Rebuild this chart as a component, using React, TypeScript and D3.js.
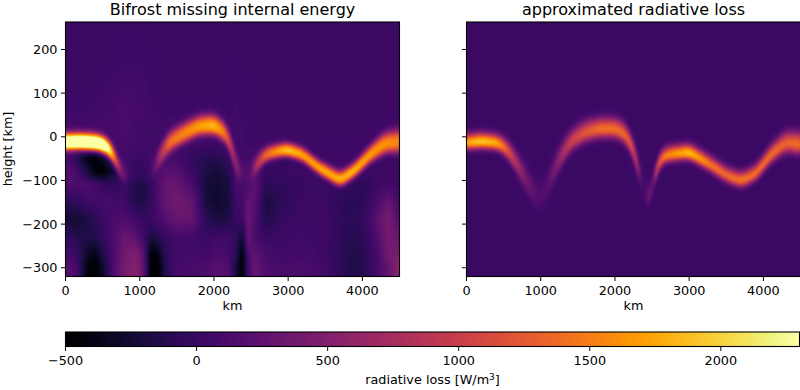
import React, { useMemo } from "react";
import * as d3 from "d3";

const xTicks = [0, 1000, 2000, 3000, 4000];
const yTicks = [-300, -200, -100, 0, 100, 200];
const colorTicks = [-500, 0, 500, 1000, 1500, 2000];
const xDomain = [0, 4500];
const yDomain = [-320, 263];
const colorDomain = [-500, 2300];

const leftTitle = "Bifrost missing internal energy";
const rightTitle = "approximated radiative loss";

// Ridge of the bright layer
const leftRidgeX = [0, 200, 400, 500, 600, 700, 760, 850, 1150, 1200, 1270, 1400, 1600, 1800, 2000, 2100, 2200, 2300, 2380, 2500, 2530, 2600, 2700, 2900, 3000, 3200, 3400, 3700, 3900, 4100, 4300, 4500];
const leftRidgeHeight = [-13, -12, -14, -18, -30, -62, -85, -100, -90, -70, -45, -13, 7, 24, 26, 15, -3, -70, -90, -85, -77, -58, -41, -32, -31, -42, -70, -100, -77, -42, -16, -12];
const leftRidgePeak = [2950, 3050, 3050, 2950, 2300, 1050, 380, 60, 60, 200, 650, 1350, 1500, 1650, 1800, 1550, 1150, 450, 100, 100, 400, 900, 1350, 1800, 1950, 1750, 1750, 1800, 1850, 1700, 1600, 1500];
const leftRidgeWidth = [17, 17, 17, 17, 17, 18, 20, 20, 20, 20, 20, 20, 20, 20, 20, 20, 19, 22, 22, 22, 20, 17, 15, 14, 14, 14, 14, 15, 15, 17, 21, 23];

// Ridge of the bright layer
const rightRidgeX = [0, 200, 400, 500, 600, 700, 800, 900, 1000, 1100, 1200, 1300, 1400, 1600, 1800, 2000, 2100, 2200, 2300, 2330, 2380, 2420, 2460, 2500, 2530, 2550, 2600, 2700, 3000, 3300, 3500, 3700, 3900, 4100, 4300, 4500];
const rightRidgeHeight = [-14, -11, -14, -22, -42, -69, -100, -127, -148, -112, -69, -39, -12, 10, 18, 18, 10, -9, -62, -82, -120, -140, -155, -120, -95, -80, -54, -42, -36, -66, -89, -102, -85, -42, -14, -18];
const rightRidgePeak = [1750, 1950, 1800, 1450, 1050, 700, 400, 230, 130, 200, 450, 750, 1000, 1200, 1400, 1400, 1350, 1300, 800, 350, 60, 120, 420, 220, 500, 1000, 1300, 1550, 1900, 1450, 1350, 1450, 1400, 1400, 1300, 1400];
const rightRidgeWidth = [15, 15, 15, 16, 18, 21, 24, 27, 30, 27, 24, 22, 20, 20, 19, 19, 19, 18, 20, 20, 25, 22, 20, 18, 16, 15, 15, 15, 15, 15, 15, 15, 15, 17, 20, 21];

// Everything apart from the ridge, left panel
const leftBgX = [0, 150, 300, 400, 500, 650, 800, 950, 1050, 1150, 1250, 1350, 1500, 1700, 1900, 2050, 2200, 2300, 2380, 2460, 2550, 2700, 2900, 3200, 3500, 3800, 4000, 4200, 4350, 4500];
const leftBgY = [263, 150, 60, 20, -20, -50, -80, -110, -150, -190, -230, -270, -300, -320];
const leftBgRow263 = [20, 20, 15, 15, 15, 20, 30, 30, 30, 25, 20, 20, 20, 20, 20, 20, 20, 30, 25, 20, 10, 10, 10, 10, 10, 10, 10, 10, 15, 15];
const leftBgRow150 = [25, 25, 25, 25, 30, 40, 50, 50, 45, 35, 30, 25, 25, 25, 25, 25, 30, 40, 35, 25, 20, 15, 15, 15, 15, 15, 15, 15, 20, 20];
const leftBgRow60 = [40, 40, 50, 50, 60, 90, 110, 90, 70, 50, 40, 40, 40, 40, 40, 40, 40, 50, 40, 30, 25, 20, 20, 20, 20, 20, 20, 25, 30, 40];
const leftBgRow20 = [80, 80, 80, 80, 80, 90, 100, 80, 60, 50, 50, 60, 60, 60, 60, 60, 60, 60, 50, 40, 30, 30, 30, 30, 25, 25, 25, 30, 40, 60];
const leftBgRowM20 = [50, 50, 40, 30, 30, 70, 90, 70, 50, 50, 60, 60, 60, 40, 20, 20, 30, 60, 50, 40, 40, 30, 20, 30, 40, 40, 30, 30, 30, 30];
const leftBgRowM50 = [120, -60, -420, -450, -300, -100, 60, 30, 30, 60, 100, 100, 80, -30, -110, -120, -20, 100, 60, 60, 60, -20, -60, -10, 20, 40, 20, 10, 0, 20];
const leftBgRowM80 = [200, 100, -200, -450, -500, -250, 60, -80, -80, 20, 120, 200, 200, 20, -180, -230, -130, 150, 80, 80, 100, 0, 0, 20, 40, 40, 0, 20, 30, 40];
const leftBgRowM110 = [150, 130, 130, 80, 0, -30, -20, -180, -190, -30, 150, 320, 300, 120, -230, -260, -200, 150, 60, 100, 250, -80, -50, 0, 0, 0, -80, 20, 40, 30];
const leftBgRowM150 = [-100, -60, 40, 70, 80, 70, 40, -150, -170, -40, 120, 300, 380, 300, -220, -270, -210, 60, 50, 300, 200, -200, -80, 20, 20, -100, -80, 120, 300, 70];
const leftBgRowM190 = [-230, -260, -180, -80, 0, 120, 130, 40, 0, 20, 80, 170, 320, 280, -100, -200, -170, 20, 10, 330, 150, -150, -20, 30, 30, -70, -50, 230, 430, 150];
const leftBgRowM230 = [-20, -130, -150, -130, -30, 130, 320, 220, 50, -200, -100, 0, 70, 60, 0, 40, 40, -40, -300, 330, 100, 0, 30, 50, 30, -100, -100, 140, 430, 300];
const leftBgRowM270 = [100, 0, -300, -400, -170, 120, 400, 480, 220, -480, -400, -60, 60, 60, 60, 130, 90, -100, -500, 150, 250, 100, 50, 70, 30, -130, -130, 100, 380, 450];
const leftBgRowM300 = [180, 100, -450, -500, -300, 140, 420, 520, 280, -500, -500, -100, 80, 100, 130, 220, 160, -220, -500, 50, 300, 150, 100, 120, 60, -130, -140, 80, 280, 600];
const leftBgRowM320 = [200, 100, -450, -500, -320, 150, 420, 520, 300, -500, -500, -100, 80, 100, 130, 220, 160, -220, -500, 50, 300, 150, 100, 120, 60, -130, -140, 80, 280, 600];
const leftBgRows = [leftBgRow263, leftBgRow150, leftBgRow60, leftBgRow20, leftBgRowM20, leftBgRowM50, leftBgRowM80, leftBgRowM110, leftBgRowM150, leftBgRowM190, leftBgRowM230, leftBgRowM270, leftBgRowM300, leftBgRowM320];

// Everything apart from the ridge, right panel (nearly flat)
const rightBgX = [0, 4500];
const rightBgY = [263, -320];
const rightBgRowTop = [15, 15];
const rightBgRowBottom = [10, 10];
const rightBgRows = [rightBgRowTop, rightBgRowBottom];

const plotTop = 22;
const plotBottom = 276.5;
const leftX0 = 65.5;
const rightX0 = 466.5;
const plotWidth = 334;
const barTop = 332;
const barBottom = 346.5;
const barLeft = 65.5;
const barRight = 799.5;
const font = "'DejaVu Sans', sans-serif";
const tickFont = 12.8;

const yScale = d3.scaleLinear().domain(yDomain).range([plotBottom, plotTop]);
const colorPos = d3.scaleLinear().domain(colorDomain).range([barLeft, barRight]);
const colorT = d3.scaleLinear().domain(colorDomain).range([0, 1]).clamp(true);
const levels = 256;

type Field = {
  ridgeX: number[]; ridgeH: number[]; ridgeP: number[]; ridgeW: number[];
  bgX: number[]; bgY: number[]; bgRows: number[][]; up: number; power: number;
};

function rasterize(f: Field, x0: number) {
  const xScale = d3.scaleLinear().domain(xDomain).range([x0, x0 + plotWidth]);
  const h0 = d3.scaleLinear().domain(f.ridgeX).range(f.ridgeH).clamp(true);
  const p = d3.scaleLinear().domain(f.ridgeX).range(f.ridgeP).clamp(true);
  const w = d3.scaleLinear().domain(f.ridgeX).range(f.ridgeW).clamp(true);
  // the ridge curve is read at knots; round off the corners between them
  const h = (x: number) => d3.mean(d3.range(-4, 5), k => h0(x + k * 15)) as number;
  const ix = d3.scaleLinear().domain(f.bgX).range(d3.range(f.bgX.length)).clamp(true);
  const iy = d3.scaleLinear().domain([...f.bgY].reverse()).range(d3.range(f.bgY.length).reverse()).clamp(true);
  const nx = plotWidth;
  const ny = Math.round(plotBottom - plotTop);
  const top = Math.round(plotTop);
  const left = Math.floor(x0);
  const vals = new Float64Array(nx * ny);
  const xsKm = d3.range(nx).map(i => xScale.invert(left + i + 0.5));
  const hs = xsKm.map(h), ps = xsKm.map(p), ws = xsKm.map(w);
  for (let j = 0; j < ny; j++) {
    const km = yScale.invert(top + j + 0.5);
    const fy = iy(km);
    const j0 = Math.min(Math.floor(fy), f.bgY.length - 2);
    const ty = fy - j0;
    for (let i = 0; i < nx; i++) {
      const fx = ix(xsKm[i]);
      const i0 = Math.min(Math.floor(fx), f.bgX.length - 2);
      const tx = fx - i0;
      const a = f.bgRows[j0][i0] * (1 - tx) + f.bgRows[j0][i0 + 1] * tx;
      const b = f.bgRows[j0 + 1][i0] * (1 - tx) + f.bgRows[j0 + 1][i0 + 1] * tx;
      const bg = a * (1 - ty) + b * ty;
      const d = km - hs[i];
      const width = d > 0 ? ws[i] * f.up : ws[i];
      vals[j * nx + i] = bg + ps[i] * Math.exp(-Math.pow(Math.abs(d / width), f.power));
    }
  }
  // soft resampling, as an upscaled image has
  for (let pass = 0; pass < 4; pass++) {
    const copy = vals.slice();
    for (let j = 0; j < ny; j++) {
      for (let i = 0; i < nx; i++) {
        let s = 0, c = 0;
        for (let dj = -1; dj <= 1; dj++) for (let di = -1; di <= 1; di++) {
          const a = i + di, b = j + dj;
          if (a < 0 || b < 0 || a >= nx || b >= ny) continue;
          const k = (2 - Math.abs(di)) * (2 - Math.abs(dj));
          s += copy[b * nx + a] * k; c += k;
        }
        vals[j * nx + i] = s / c;
      }
    }
  }
  const paths: string[] = new Array(levels).fill("");
  for (let j = 0; j < ny; j++) {
    let i = 0;
    while (i < nx) {
      const lv = Math.min(levels - 1, Math.floor(colorT(vals[j * nx + i]) * levels));
      let run = 1;
      while (i + run < nx && Math.min(levels - 1, Math.floor(colorT(vals[j * nx + i + run]) * levels)) === lv) run++;
      paths[lv] += `M${left + i} ${top + j}h${run}v1h${-run}z`;
      i += run;
    }
  }
  return paths;
}

function Panel({ x0, title, field, yLabels }: { x0: number; title: string; field: Field; yLabels: boolean }) {
  const xScale = d3.scaleLinear().domain(xDomain).range([x0, x0 + plotWidth]);
  const paths = useMemo(() => rasterize(field, x0), []);
  return (
    <g>
      <text x={x0 + plotWidth / 2} y={15} textAnchor="middle" fontSize={16} fontFamily={font}>{title}</text>
      <g shapeRendering="crispEdges">
        {paths.map((d, i) => d ? <path key={i} d={d} fill={d3.interpolateInferno((i + 0.5) / levels)} /> : null)}
      </g>
      <rect x={x0} y={plotTop} width={plotWidth} height={plotBottom - plotTop} fill="none" stroke="#000" strokeWidth={1.1} />
      {xTicks.map(t => (
        <g key={t}>
          <line x1={xScale(t)} x2={xScale(t)} y1={plotBottom} y2={plotBottom + 4.5} stroke="#000" strokeWidth={1} />
          <text x={xScale(t)} y={plotBottom + 18} textAnchor="middle" fontSize={tickFont} fontFamily={font}>{t}</text>
        </g>
      ))}
      <text x={x0 + plotWidth / 2} y={plotBottom + 33} textAnchor="middle" fontSize={tickFont} fontFamily={font}>km</text>
      {yTicks.map(t => (
        <g key={t}>
          <line x1={x0 - 4.5} x2={x0} y1={yScale(t)} y2={yScale(t)} stroke="#000" strokeWidth={1} />
          {yLabels && <text x={x0 - 8} y={yScale(t) + 4.5} textAnchor="end" fontSize={tickFont} fontFamily={font}>{t < 0 ? "\u2212" + Math.abs(t) : t}</text>}
        </g>
      ))}
    </g>
  );
}

const leftField: Field = { ridgeX: leftRidgeX, ridgeH: leftRidgeHeight, ridgeP: leftRidgePeak, ridgeW: leftRidgeWidth, bgX: leftBgX, bgY: leftBgY, bgRows: leftBgRows, up: 1.2, power: 2.6 };
const rightField: Field = { ridgeX: rightRidgeX, ridgeH: rightRidgeHeight, ridgeP: rightRidgePeak, ridgeW: rightRidgeWidth, bgX: rightBgX, bgY: rightBgY, bgRows: rightBgRows, up: 1.3, power: 2.2 };

export default function App() {
  const barCells = d3.range(levels);
  const cellW = (barRight - barLeft) / levels;
  return (
    <svg width={800} height={390} style={{ position: "absolute", left: 0, top: 0 }}>
      <rect width={800} height={390} fill="#fff" />
      <Panel x0={leftX0} title={leftTitle} field={leftField} yLabels />
      <Panel x0={rightX0} title={rightTitle} field={rightField} yLabels={false} />
      <text transform={`translate(12,149) rotate(-90)`} textAnchor="middle" fontSize={tickFont} fontFamily={font}>height [km]</text>
      <g shapeRendering="crispEdges">
        {barCells.map(i => (
          <rect key={i} x={barLeft + i * cellW} y={barTop} width={cellW + 0.6} height={barBottom - barTop} fill={d3.interpolateInferno((i + 0.5) / levels)} />
        ))}
      </g>
      <rect x={barLeft} y={barTop} width={barRight - barLeft} height={barBottom - barTop} fill="none" stroke="#000" strokeWidth={1.1} />
      {colorTicks.map(t => (
        <g key={t}>
          <line x1={colorPos(t)} x2={colorPos(t)} y1={barBottom} y2={barBottom + 4.5} stroke="#000" strokeWidth={1} />
          <text x={colorPos(t)} y={barBottom + 18} textAnchor="middle" fontSize={tickFont} fontFamily={font}>{t < 0 ? "\u2212" + Math.abs(t) : t}</text>
        </g>
      ))}
      <text x={(barLeft + barRight) / 2} y={384} textAnchor="middle" fontSize={tickFont} fontFamily={font}>
        radiative loss [W/m<tspan dy={-4.5} fontSize={9}>3</tspan><tspan dy={4.5}>]</tspan>
      </text>
    </svg>
  );
}
